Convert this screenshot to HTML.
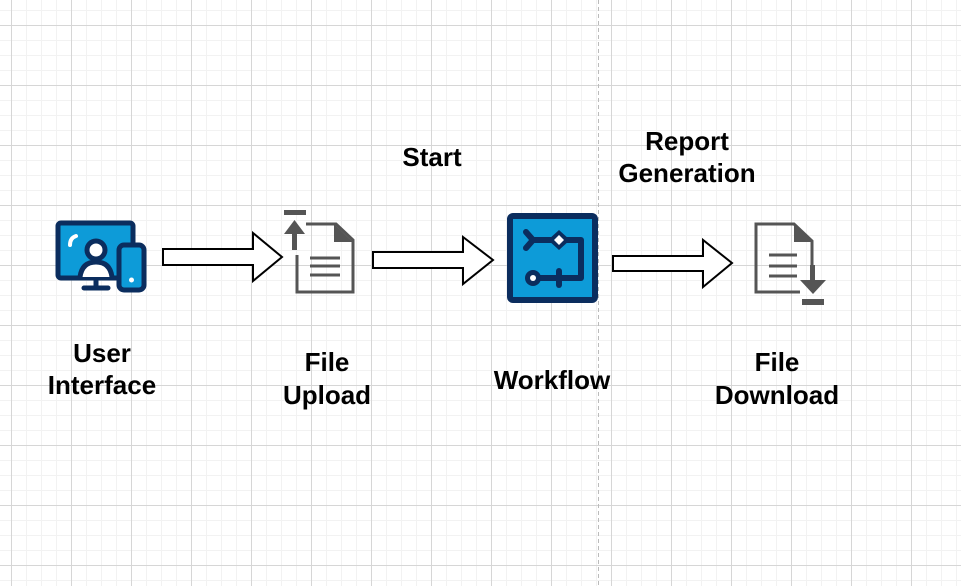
<!DOCTYPE html>
<html><head><meta charset="utf-8"><style>
html,body{margin:0;padding:0;background:#fff;}
svg{display:block;}
text{font-family:"Liberation Sans",Arial,sans-serif;font-weight:bold;font-size:26px;fill:#000;}
</style></head><body>
<svg width="961" height="586" viewBox="0 0 961 586" xmlns="http://www.w3.org/2000/svg">
<defs>
<pattern id="minor" x="11" y="10" width="15" height="15" patternUnits="userSpaceOnUse">
<path d="M0.5 0V15M0 0.5H15" stroke="#f2f2f2" stroke-width="1" fill="none"/>
</pattern>
<pattern id="major" x="11" y="25" width="60" height="60" patternUnits="userSpaceOnUse">
<path d="M0.5 0V60M0 0.5H60" stroke="#d6d6d6" stroke-width="1" fill="none"/>
</pattern>
</defs>
<rect width="961" height="586" fill="url(#minor)"/>
<rect width="961" height="586" fill="url(#major)"/>
<line x1="598.5" y1="0" x2="598.5" y2="586" stroke="#bbb" stroke-width="1" stroke-dasharray="4,3"/>

<polygon points="163,249 253,249 253,233 282,257 253,281 253,265 163,265" fill="#fff" stroke="#000" stroke-width="2"/>
<polygon points="373,252 463,252 463,237 493,260 463,284 463,268 373,268" fill="#fff" stroke="#000" stroke-width="2"/>
<polygon points="613,256 703,256 703,240 732,263 703,287 703,271 613,271" fill="#fff" stroke="#000" stroke-width="2"/>

<rect x="58" y="223" width="75" height="55" rx="3" fill="#0d9bd8" stroke="#0b2d5e" stroke-width="5"/>
<path d="M70 245 Q70 238 76 236" stroke="#fff" stroke-width="4" fill="none" stroke-linecap="round"/>
<circle cx="96" cy="250" r="9" fill="#fff" stroke="#0b2d5e" stroke-width="5"/>
<path d="M80 277 Q82 262 96 262 Q110 262 112 277" fill="#fff" stroke="#0b2d5e" stroke-width="5"/>
<line x1="96" y1="278" x2="96" y2="287" stroke="#0b2d5e" stroke-width="5"/>
<line x1="84" y1="288" x2="108" y2="288" stroke="#0b2d5e" stroke-width="5" stroke-linecap="round"/>
<rect x="119" y="245" width="25" height="45" rx="5" fill="#0d9bd8" stroke="#0b2d5e" stroke-width="5"/>
<circle cx="131.5" cy="280" r="2.5" fill="#fff"/>

<rect x="284" y="210" width="22" height="5" fill="#555"/>
<rect x="292" y="228" width="5" height="22" fill="#555"/>
<polygon points="294.5,220 284,234 305,234" fill="#555"/>
<path d="M297 255V292H353V240L336 224H306" fill="none" stroke="#555" stroke-width="3"/>
<polygon points="334,224 353,242 334,242" fill="#555"/>
<path d="M310 258H340M310 266H340M310 275H340" stroke="#555" stroke-width="3"/>

<rect x="510" y="216" width="85" height="84" rx="3" fill="#0d9bd8" stroke="#0b2d5e" stroke-width="6"/>
<path d="M526 232 L533 240 L526 248 M533 240 H556 M563 240 L573 240 H581 V278 H533" fill="none" stroke="#0b2d5e" stroke-width="6" stroke-linecap="round" stroke-linejoin="round"/>
<polygon points="559,230 570,240 559,250 548,240" fill="#0b2d5e"/>
<polygon points="559,235 564,240 559,245 554,240" fill="#fff"/>
<circle cx="533" cy="278" r="8" fill="#0b2d5e"/>
<circle cx="533" cy="278" r="3" fill="#fff"/>
<line x1="559" y1="271" x2="559" y2="285" stroke="#0b2d5e" stroke-width="6" stroke-linecap="round"/>

<path d="M800 292H756V224H794L812 241V272" fill="none" stroke="#555" stroke-width="3"/>
<polygon points="794,224 812,242 794,242" fill="#555"/>
<path d="M769 255H797M769 266H797M769 276H797" stroke="#555" stroke-width="3"/>
<rect x="810" y="265" width="5" height="20" fill="#555"/>
<polygon points="800,280 826,280 813,294" fill="#555"/>
<rect x="802" y="299" width="22" height="6" fill="#555"/>

<text x="102" y="362" text-anchor="middle">User</text>
<text x="102" y="394" text-anchor="middle">Interface</text>
<text x="327" y="371" text-anchor="middle">File</text>
<text x="327" y="404" text-anchor="middle">Upload</text>
<text x="552" y="389" text-anchor="middle">Workflow</text>
<text x="777" y="371" text-anchor="middle">File</text>
<text x="777" y="404" text-anchor="middle">Download</text>
<text x="432" y="166" text-anchor="middle">Start</text>
<text x="687" y="150" text-anchor="middle">Report</text>
<text x="687" y="182" text-anchor="middle">Generation</text>
</svg>
</body></html>
